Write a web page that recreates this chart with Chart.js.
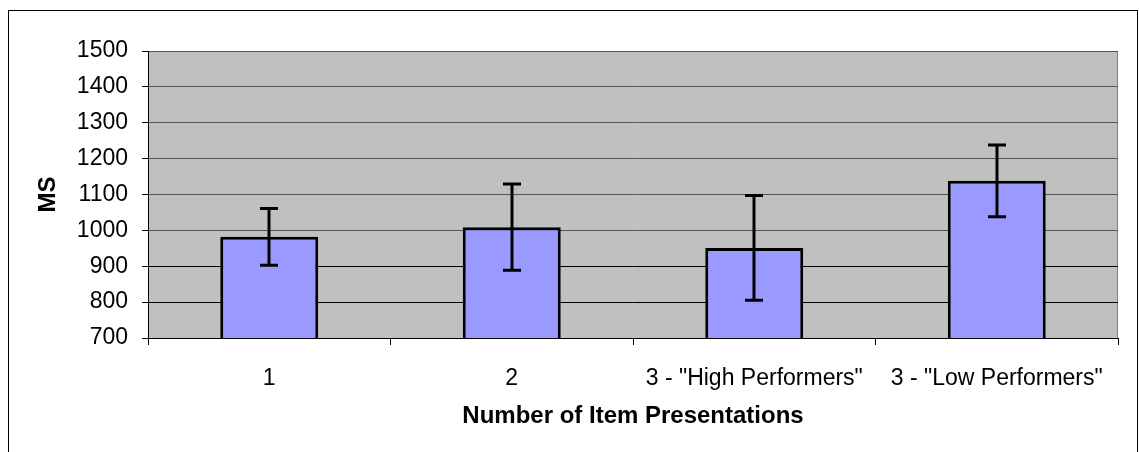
<!DOCTYPE html>
<html>
<head>
<meta charset="utf-8">
<script src="https://cdn.jsdelivr.net/npm/chart.js@4.4.0/dist/chart.umd.min.js"></script>
<style>
    body { margin: 0; background: #fff; }
    canvas { display: block; }
</style>
</head>
<body>
<canvas id="chart" width="1139" height="452"></canvas>
<script>
const categories = ['1', '2', '3 - "High Performers"', '3 - "Low Performers"'];
const meanValues = [982, 1009, 951, 1138];
const errorValues = [79, 120, 146, 100];
const yTicks = [700, 800, 900, 1000, 1100, 1200, 1300, 1400, 1500];

const FONT = "'Liberation Sans', Arial, sans-serif";

// grey plot background, frame, outer border
const backgroundPlugin = {
    id: 'plotBackground',
    beforeDraw(chart) {
        const { ctx, chartArea } = chart;
        ctx.save();
        ctx.fillStyle = '#fff';
        ctx.fillRect(0, 0, chart.width, chart.height);
        ctx.strokeStyle = '#000';
        ctx.lineWidth = 1;
        ctx.strokeRect(8.5, 10.5, 1129, 500);
        ctx.fillStyle = '#c0c0c0';
        ctx.fillRect(chartArea.left, chartArea.top, chartArea.right - chartArea.left, chartArea.bottom - chartArea.top);
        ctx.strokeStyle = '#808080';
        ctx.beginPath();
        ctx.moveTo(chartArea.left, chartArea.top + 0.5);
        ctx.lineTo(chartArea.right - 0.5, chartArea.top + 0.5);
        ctx.lineTo(chartArea.right - 0.5, chartArea.bottom);
        ctx.stroke();
        ctx.restore();
    }
};

// error bars from errorValues
const errorBarPlugin = {
    id: 'errorBars',
    afterDatasetsDraw(chart) {
        const { ctx } = chart;
        const yScale = chart.scales.y;
        const meta = chart.getDatasetMeta(0);
        ctx.save();
        ctx.strokeStyle = '#000';
        ctx.lineWidth = 3;
        meta.data.forEach((bar, i) => {
            const x = Math.round(bar.x);
            const top = yScale.getPixelForValue(meanValues[i] + errorValues[i]);
            const bottom = yScale.getPixelForValue(meanValues[i] - errorValues[i]);
            ctx.beginPath();
            ctx.moveTo(x, top);
            ctx.lineTo(x, bottom);
            ctx.moveTo(x - 9, top);
            ctx.lineTo(x + 9, top);
            ctx.moveTo(x - 9, bottom);
            ctx.lineTo(x + 9, bottom);
            ctx.stroke();
        });
        ctx.restore();
    }
};

new Chart(document.getElementById('chart').getContext('2d'), {
    type: 'bar',
    data: {
        labels: categories,
        datasets: [{
            data: meanValues,
            backgroundColor: '#9999ff',
            borderColor: '#000',
            borderWidth: 3,
            borderSkipped: false,
            barPercentage: 0.404,
            categoryPercentage: 1
        }]
    },
    options: {
        responsive: false,
        animation: false,
        layout: { padding: { left: 36, right: 21, top: 51, bottom: 24 } },
        plugins: {
            legend: { display: false },
            tooltip: { enabled: false }
        },
        scales: {
            x: {
                afterFit(scale) { scale.height = 90; },
                grid: { drawOnChartArea: false, tickLength: 7, color: '#000', tickColor: '#000' },
                border: { display: true, color: '#000', width: 1 },
                ticks: { color: '#000', font: { family: FONT, size: 23 }, padding: 20, maxRotation: 0, autoSkip: false },
                title: {
                    display: true,
                    text: 'Number of Item Presentations',
                    color: '#000',
                    font: { family: FONT, size: 24, weight: 'bold', lineHeight: 1 },
                    padding: 0
                }
            },
            y: {
                min: 700,
                max: 1500,
                afterFit(scale) { scale.width = 112; },
                afterBuildTicks(scale) { scale.ticks = yTicks.map(v => ({ value: v })); },
                grid: {
                    color: ctx => (ctx.tick && ctx.tick.value >= 1000 ? '#555' : '#000'),
                    tickColor: '#000',
                    tickLength: 6
                },
                border: { display: true, color: '#000', width: 1 },
                ticks: {
                    color: '#000',
                    font: { family: FONT, size: 23 },
                    padding: 14,
                    callback: value => String(value)
                },
                title: {
                    display: true,
                    text: 'MS',
                    color: '#000',
                    font: { family: FONT, size: 24, weight: 'bold', lineHeight: 1 },
                    padding: 0
                }
            }
        }
    },
    plugins: [backgroundPlugin, errorBarPlugin]
});
</script>
</body>
</html>
